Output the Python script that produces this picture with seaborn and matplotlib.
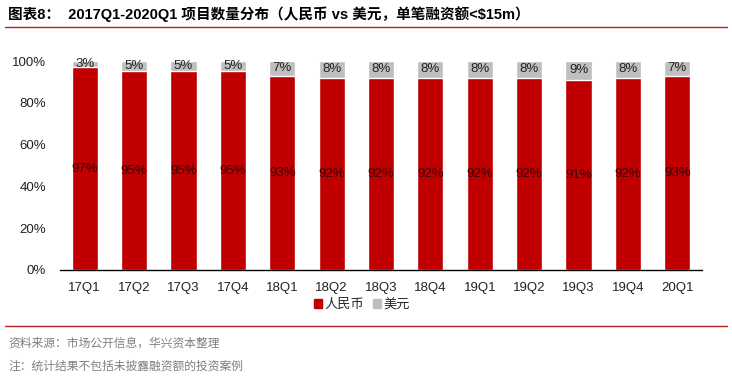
import pandas as pd
import seaborn as sns
import matplotlib.pyplot as plt
from matplotlib.lines import Line2D
from matplotlib.patches import Patch

quarters = ['17Q1', '17Q2', '17Q3', '17Q4', '18Q1', '18Q2', '18Q3', '18Q4',
            '19Q1', '19Q2', '19Q3', '19Q4', '20Q1']
rmb = [97, 95, 95, 95, 93, 92, 92, 92, 92, 92, 91, 92, 93]
usd = [3, 5, 5, 5, 7, 8, 8, 8, 8, 8, 9, 8, 7]

red = '#C00000'
grey = '#BFBFBF'

sns.set_theme(style='white')
plt.rcParams['font.family'] = ['Liberation Sans', 'Noto Sans CJK SC', 'DejaVu Sans']

df = pd.DataFrame({'quarter': quarters, 'rmb': rmb, 'usd': usd})
df['total'] = df['rmb'] + df['usd']

fig = plt.figure(figsize=(7.32, 3.76), dpi=100)
ax = fig.add_axes([60 / 732, 1 - 270 / 376, 642 / 732, 209 / 376])

# stacked: grey total underneath, red on top
sns.barplot(data=df, x='quarter', y='total', color=grey, width=0.53, saturation=1, ax=ax)
sns.barplot(data=df, x='quarter', y='rmb', color=red, width=0.53, saturation=1, ax=ax)

for i, (r, u) in enumerate(zip(rmb, usd)):
    ax.text(i, r * 0.5, f'{r}%', ha='center', va='center', fontsize=9.5, color='#3a0000')
    ax.text(i, r + u / 2, f'{u}%', ha='center', va='center', fontsize=9.5, color='#222222')

ax.set_xlim(-0.5, 12.5)
ax.set_ylim(0, 100)
ax.set_yticks(range(0, 101, 20))
ax.set_yticklabels([f'{v}%' for v in range(0, 101, 20)], fontsize=9.5, color='#222222')
ax.tick_params(axis='x', labelsize=9.5, colors='#222222', pad=3)
ax.tick_params(axis='y', pad=4)
ax.set_xlabel('')
ax.set_ylabel('')
for s in ['top', 'right', 'left']:
    ax.spines[s].set_visible(False)
ax.spines['bottom'].set_color('black')
ax.spines['bottom'].set_linewidth(1)

handles = [Patch(color=red, label='人民币'), Patch(color=grey, label='美元')]
fig.legend(handles=handles, loc='center', bbox_to_anchor=(362 / 732, 1 - 305 / 376), ncol=2,
           frameon=False, fontsize=9.5, handlelength=0.6, handleheight=0.6,
           handletextpad=0.2, columnspacing=0.6, borderpad=0.1)

# header and footer
fig.text(8 / 732, 1 - 14 / 376, '图表8：  2017Q1-2020Q1 项目数量分布（人民币 vs 美元，单笔融资额<$15m）',
         fontsize=10.5, fontweight='bold', va='center', ha='left', color='black',
         family=['Liberation Sans', 'Noto Sans CJK SC', 'DejaVu Sans'])
fig.add_artist(Line2D([5 / 732, 727 / 732], [1 - 27 / 376] * 2, color='#B22222', lw=1))
fig.add_artist(Line2D([5 / 732, 727 / 732], [1 - 326 / 376] * 2, color='#B22222', lw=1))
fig.text(8 / 732, 1 - 343 / 376, '资料来源：市场公开信息，华兴资本整理', fontsize=8.5,
         color='#7f7f7f', va='center', family=['Noto Sans CJK SC', 'DejaVu Sans'])
fig.text(8 / 732, 1 - 366 / 376, '注：统计结果不包括未披露融资额的投资案例', fontsize=8.5,
         color='#7f7f7f', va='center', family=['Noto Sans CJK SC', 'DejaVu Sans'])

fig.savefig('out.png', dpi=100)
